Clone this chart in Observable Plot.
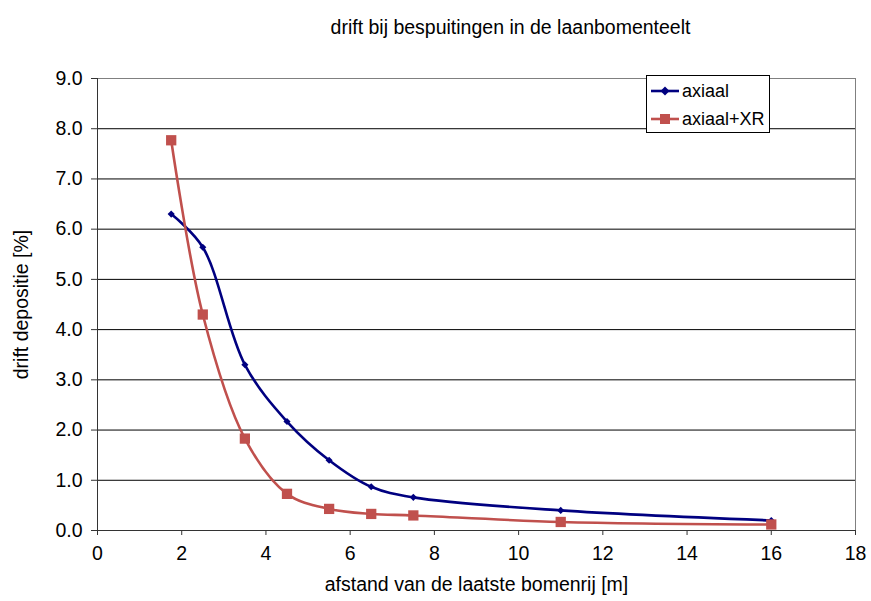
<!DOCTYPE html>
<html>
<head>
<meta charset="utf-8">
<script src="https://cdn.jsdelivr.net/npm/d3@7"></script>
<script src="https://cdn.jsdelivr.net/npm/@observablehq/plot@0.6"></script>
<style>
  body { margin: 0; background: #fff; }
  #wrap { position: relative; width: 871px; height: 601px; font-family: "Liberation Sans", Arial, sans-serif; }
  #legend { position: absolute; left: 646px; top: 75px; width: 122px; height: 56px; border: 1px solid #000; background: #fff; font-size: 18px; color: #000; }
  #legend .row { position: absolute; left: 4px; height: 20px; display: flex; align-items: center; }
  #legend svg { display: block; }
  #legend span { margin-left: 3px; line-height: 20px; }
</style>
</head>
<body>
<div id="wrap"></div>
<script>
const title = "drift bij bespuitingen in de laanbomenteelt";
const xLabel = "afstand van de laatste bomenrij [m]";
const yLabel = "drift depositie [%]";
const seriesNames = ["axiaal", "axiaal+XR"];
const seriesColors = ["#000080", "#C0504D"];
const distance = [1.75, 2.5, 3.5, 4.5, 5.5, 6.5, 7.5, 11, 16];
const axiaal = [6.30, 5.64, 3.30, 2.17, 1.40, 0.87, 0.66, 0.40, 0.20];
const axiaalXR = [7.77, 4.30, 1.83, 0.73, 0.43, 0.33, 0.30, 0.17, 0.12];
const xTicks = [0, 2, 4, 6, 8, 10, 12, 14, 16, 18];
const yTicks = [0, 1, 2, 3, 4, 5, 6, 7, 8, 9];

const rows = [];
distance.forEach((d, i) => {
  rows.push({x: d, y: axiaal[i], s: seriesNames[0]});
});
distance.forEach((d, i) => {
  rows.push({x: d, y: axiaalXR[i], s: seriesNames[1]});
});
const blue = rows.filter(r => r.s === seriesNames[0]);
const red = rows.filter(r => r.s === seriesNames[1]);

const FS = 19.5;
const chart = Plot.plot({
  width: 871,
  height: 601,
  marginLeft: 97,
  marginRight: 16,
  marginTop: 78,
  marginBottom: 71,
  style: {fontFamily: "Liberation Sans, Arial, sans-serif", fontSize: FS + "px", color: "#000", background: "#fff"},
  x: {domain: [0, 18], ticks: xTicks},
  y: {domain: [0, 9], ticks: yTicks},
  marks: [
    Plot.gridY(yTicks, {stroke: "#000", strokeOpacity: 1, strokeWidth: 1}),
    Plot.frame({stroke: "#808080"}),
    Plot.ruleX([0], {stroke: "#333"}),
    Plot.ruleY([0], {stroke: "#333"}),
    Plot.axisX({ticks: xTicks, tickSize: 5, tickPadding: 11, fontSize: FS, label: xLabel, labelAnchor: "center", labelArrow: "none", labelOffset: 60, stroke: "#333"}),
    Plot.axisY({ticks: yTicks, tickSize: 6, tickPadding: 9, fontSize: FS, tickFormat: d3.format(".1f"), label: yLabel, labelAnchor: "center", labelArrow: "none", labelOffset: 83, stroke: "#333"}),
    Plot.line(blue, {x: "x", y: "y", stroke: seriesColors[0], strokeWidth: 2.6, curve: "catmull-rom"}),
    Plot.dot(blue, {x: "x", y: "y", symbol: "diamond2", r: 3.2, fill: seriesColors[0], stroke: null}),
    Plot.line(red, {x: "x", y: "y", stroke: seriesColors[1], strokeWidth: 2.6, curve: "catmull-rom"}),
    Plot.dot(red, {x: "x", y: "y", symbol: "square", r: 5.8, fill: seriesColors[1], stroke: null}),
    Plot.text([title], {frameAnchor: "top", dx: 34, dy: -58, fontSize: FS, fill: "#000"})
  ]
});

const wrap = document.getElementById("wrap");
wrap.appendChild(chart);

// legend
const legend = document.createElement("div");
legend.id = "legend";
const markerSvg = [
  (c) => `<svg width="28" height="20"><line x1="0" y1="10" x2="28" y2="10" stroke="${c}" stroke-width="2.6"/><path d="M14,5.5L18.5,10L14,14.5L9.5,10Z" fill="${c}"/></svg>`,
  (c) => `<svg width="28" height="20"><line x1="0" y1="10" x2="28" y2="10" stroke="${c}" stroke-width="2.6"/><rect x="9" y="5" width="10" height="10" fill="${c}"/></svg>`
];
seriesNames.forEach((name, i) => {
  const row = document.createElement("div");
  row.className = "row";
  row.style.top = (i === 0 ? 5 : 33) + "px";
  row.innerHTML = markerSvg[i](seriesColors[i]) + `<span>${name}</span>`;
  legend.appendChild(row);
});
wrap.appendChild(legend);
</script>
</body>
</html>
